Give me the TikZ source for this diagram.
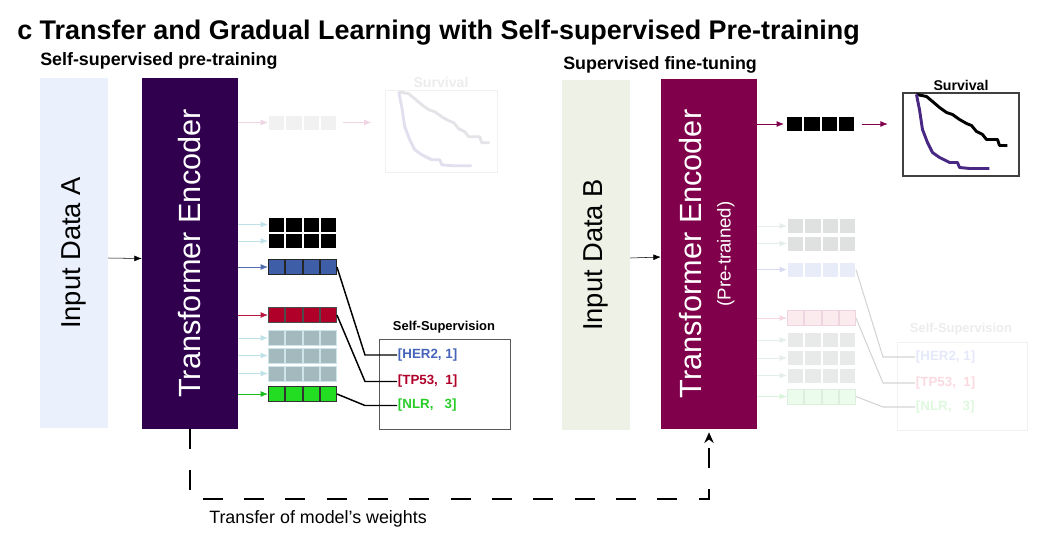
\documentclass[tikz,border=0pt]{standalone}
\usepackage{fontspec}
\setmainfont{Liberation Sans}
\usetikzlibrary{arrows.meta}

\definecolor{inAfill}{RGB}{234,241,253}
\definecolor{inBfill}{RGB}{238,242,230}
\definecolor{encAfill}{RGB}{48,0,78}
\definecolor{encBfill}{RGB}{128,0,75}
\definecolor{herblue}{RGB}{63,94,168}
\definecolor{hertext}{RGB}{70,100,185}
\definecolor{tpred}{RGB}{176,0,42}
\definecolor{nlrgreen}{RGB}{34,221,34}
\definecolor{nlrtext}{RGB}{40,205,40}
\definecolor{grayblue}{RGB}{164,185,189}
\definecolor{grayblueline}{RGB}{205,228,232}
\definecolor{paleblue}{RGB}{190,226,232}
\definecolor{curvepurple}{RGB}{72,40,130}
% faded colours
\definecolor{fadepink}{RGB}{240,212,228}
\definecolor{fadecell}{RGB}{241,241,241}
\definecolor{fadetext}{RGB}{236,236,236}
\definecolor{fadecurveA}{RGB}{228,228,232}
\definecolor{fadecurveB}{RGB}{226,223,238}
\definecolor{fgray}{RGB}{222,225,224}
\definecolor{fgraytwo}{RGB}{232,234,233}
\definecolor{fblue}{RGB}{232,235,248}
\definecolor{fpink}{RGB}{251,234,238}
\definecolor{fpinkline}{RGB}{238,212,222}
\definecolor{fgreen}{RGB}{236,252,236}
\definecolor{fgreenline}{RGB}{222,238,222}
\definecolor{farrowgray}{RGB}{228,236,236}
\definecolor{farrowblue}{RGB}{214,218,242}
\definecolor{farrowpink}{RGB}{246,214,226}
\definecolor{farrowgreen}{RGB}{216,244,216}
\definecolor{faintline}{RGB}{212,212,212}
\definecolor{fhertext}{RGB}{228,232,248}
\definecolor{ftptext}{RGB}{250,218,224}
\definecolor{fnlrtext}{RGB}{222,248,222}

% one row of four embedding cells: name, left x, centre y, fill, border
\newcommand\cellrow[5]{%
  \foreach \i in {0,...,3}
    \node[cell,fill=#4,draw=#5] (#1-\i) at ({#2+8.6+17.25*\i},#3) {};}

% the two survival curves, relative to the plot's north west corner
\newcommand\survlines[2]{%
  \draw[line width=2.2pt,#1,line join=round] (14,2) -- (24,4) -- (30,9) -- (37,15) -- (44,20) -- (50,22) -- (57,27)
    -- (64,31) -- (69,33) -- (74,39) -- (80,42) -- (84,47) -- (95,47) -- (97,53) -- (105,53);
  \draw[line width=2.2pt,#2,line join=round] (14,2) -- (17,17) -- (20,37) -- (25,50) -- (30,60) -- (37,65)
    -- (47,70) -- (55,70) -- (57,75) -- (67,76) -- (87,76);}

\begin{document}
\begin{tikzpicture}[x=0.75pt,y=-0.75pt,>={Latex[length=5.5pt,width=4.4pt]},
  cell/.style={rectangle,inner sep=0pt,minimum width=12.3pt,minimum height=11.4pt,line width=0.6pt},
  tallbox/.style={rectangle,inner sep=0pt,minimum height=263pt},
  rowarrow/.style={->,line width=0.6pt},
  link/.style={line width=1.1pt,black},
  faintlink/.style={line width=0.8pt,faintline},
  survbox/.style={rectangle,draw,inner sep=0pt},
  survlabel/.style={font=\bfseries\fontsize{10.6}{12}\selectfont,anchor=south,inner sep=1.5pt},
  ssbox/.style={rectangle,draw,inner sep=0pt},
  sslabel/.style={font=\bfseries\fontsize{9.7}{11}\selectfont,anchor=base,inner sep=0pt},
  tag/.style={font=\bfseries\fontsize{10}{12}\selectfont,anchor=west,inner sep=0.5pt},
  heading/.style={font=\bfseries\fontsize{13.4}{16}\selectfont,anchor=base west,inner sep=0pt},
  transfer/.style={-{Stealth[length=8pt,width=7pt]},line width=1.5pt,dash pattern=on 15pt off 16pt}]
  \useasboundingbox (0,0) rectangle (1042,544);

  % titles
  \node[anchor=base west,inner sep=0pt,font=\bfseries\fontsize{20.2}{24}\selectfont] (title) at (17,39)
    {c Transfer and Gradual Learning with Self-supervised Pre-training};
  \node[heading] (headA) at (40,65) {Self-supervised pre-training};
  \node[heading] (headB) at (563,69) {Supervised fine-tuning};

  % pre-training
  \node[tallbox,fill=inAfill,minimum width=51pt,font=\fontsize{20.5}{24}\selectfont] (inA) at (74,253)
    {\rotatebox{90}{Input Data A}};
  \node[tallbox,fill=encAfill,minimum width=72pt,text=white,font=\fontsize{23}{27}\selectfont] (encA) at (190,253.5)
    {\rotatebox{90}{Transformer Encoder}};
  \draw[->] ([yshift=-3.75pt]inA.east) -- ([yshift=-3.75pt]encA.west);

  % faded survival head
  \cellrow{topA}{268}{122.5}{fadecell}{white}
  \node[survbox,draw=fadecell,minimum width=84pt,minimum height=61.5pt] (survA) at (441,131) {};
  \node[survlabel,text=fadetext] (survAlabel) at (survA.north) {Survival};
  \begin{scope}[shift={(survA.north west)}]
    \survlines{fadecurveA}{fadecurveB}
  \end{scope}
  \draw[rowarrow,fadepink] (encA.east |- topA-0.west) -- (topA-0.west);
  \draw[rowarrow,fadepink,shorten <=4.5pt,shorten >=10pt] (topA-3.east) -- (topA-3.east -| survA.west);

  % embeddings for self-supervision
  \cellrow{blackA1}{268}{224.5}{black}{white}
  \cellrow{blackA2}{268}{241}{black}{white}
  \cellrow{blueA}{268}{267}{herblue}{black!85}
  \cellrow{redA}{268}{315}{tpred}{black!70}
  \cellrow{grayA1}{268}{338}{grayblue}{grayblueline}
  \cellrow{grayA2}{268}{355.5}{grayblue}{grayblueline}
  \cellrow{grayA3}{268}{373.5}{grayblue}{grayblueline}
  \cellrow{greenA}{268}{394}{nlrgreen}{black!80}
  \draw[rowarrow,paleblue] (encA.east |- blackA1-0.west) -- (blackA1-0.west);
  \draw[rowarrow,paleblue] (encA.east |- blackA2-0.west) -- (blackA2-0.west);
  \draw[rowarrow,herblue!90!white] (encA.east |- blueA-0.west) -- (blueA-0.west);
  \draw[rowarrow,tpred!90!white] (encA.east |- redA-0.west) -- (redA-0.west);
  \draw[rowarrow,paleblue] (encA.east |- grayA1-0.west) -- (grayA1-0.west);
  \draw[rowarrow,paleblue] (encA.east |- grayA2-0.west) -- (grayA2-0.west);
  \draw[rowarrow,paleblue] (encA.east |- grayA3-0.west) -- (grayA3-0.west);
  \draw[rowarrow,nlrgreen!85!black] (encA.east |- greenA-0.west) -- (greenA-0.west);

  \node[ssbox,draw=black!65,minimum width=98.25pt,minimum height=67.5pt] (ssA) at (444.5,384) {};
  \node[sslabel] (ssAlabel) at (444,330) {Self-Supervision};
  \node[tag,text=hertext] (herA) at (397,355) {[HER2, 1]};
  \node[tag,text=tpred] (tpA) at (397,381.5) {[TP53,\ \ 1]};
  \node[tag,text=nlrtext] (nlrA) at (397,405.5) {[NLR,\ \ \ 3]};
  \coordinate (bendA) at (365,0);
  \draw[link] (blueA-3.east) -- (bendA |- herA.west) -- (herA.west);
  \draw[link] (redA-3.east) -- (bendA |- tpA.west) -- (tpA.west);
  \draw[link] (greenA-3.east) -- (bendA |- nlrA.west) -- (nlrA.west);

  % fine-tuning
  \node[tallbox,fill=inBfill,minimum width=51pt,font=\fontsize{20.5}{24}\selectfont] (inB) at (596,255)
    {\rotatebox{90}{Input Data B}};
  \node[tallbox,fill=encBfill,minimum width=72pt,text=white,font=\fontsize{23}{26}\selectfont] (encB) at (709,254)
    {\rotatebox{90}{\begin{tabular}{@{}c@{}}Transformer Encoder\\[-4pt]{\fontsize{14}{16}\selectfont(Pre-trained)}\end{tabular}}};
  \draw[->] ([yshift=-2.25pt]inB.east) -- ([yshift=-2.25pt]encB.west);

  % survival head
  \cellrow{topB}{786}{124}{black}{white}
  \node[survbox,draw=black!75,line width=0.8pt,minimum width=87pt,minimum height=62.25pt] (survB) at (961,134.5) {};
  \node[survlabel] (survBlabel) at (survB.north) {Survival};
  \begin{scope}[shift={(survB.north west)}]
    \survlines{black}{curvepurple}
  \end{scope}
  \draw[rowarrow,encBfill,shorten >=1.5pt] (encB.east |- topB-0.west) -- (topB-0.west);
  \draw[rowarrow,encBfill,shorten <=5pt,shorten >=11pt] (topB-3.east) -- (topB-3.east -| survB.west);

  % faded self-supervision
  \cellrow{grayB1}{787}{226}{fgray}{white}
  \cellrow{grayB2}{787}{243.5}{fgray}{white}
  \cellrow{blueB}{787}{269.5}{fblue}{white}
  \cellrow{pinkB}{787}{318}{fpink}{fpinkline}
  \cellrow{grayB3}{787}{340}{fgraytwo}{white}
  \cellrow{grayB4}{787}{358}{fgraytwo}{white}
  \cellrow{grayB5}{787}{375.5}{fgraytwo}{white}
  \cellrow{greenB}{787}{396.5}{fgreen}{fgreenline}
  \draw[rowarrow,farrowgray] (encB.east |- grayB1-0.west) -- (grayB1-0.west);
  \draw[rowarrow,farrowgray] (encB.east |- grayB2-0.west) -- (grayB2-0.west);
  \draw[rowarrow,farrowblue] (encB.east |- blueB-0.west) -- (blueB-0.west);
  \draw[rowarrow,farrowpink] (encB.east |- pinkB-0.west) -- (pinkB-0.west);
  \draw[rowarrow,farrowgray] (encB.east |- grayB3-0.west) -- (grayB3-0.west);
  \draw[rowarrow,farrowgray] (encB.east |- grayB4-0.west) -- (grayB4-0.west);
  \draw[rowarrow,farrowgray] (encB.east |- grayB5-0.west) -- (grayB5-0.west);
  \draw[rowarrow,farrowgreen] (encB.east |- greenB-0.west) -- (greenB-0.west);

  \node[ssbox,draw=fadecell,minimum width=97.5pt,minimum height=66pt] (ssB) at (962,386) {};
  \node[sslabel,text=fadetext] (ssBlabel) at (961,332) {Self-Supervision};
  \node[tag,text=fhertext] (herB) at (915,357) {[HER2, 1]};
  \node[tag,text=ftptext] (tpB) at (915,383) {[TP53,\ \ 1]};
  \node[tag,text=fnlrtext] (nlrB) at (915,407) {[NLR,\ \ \ 3]};
  \coordinate (bendB) at (883,0);
  \draw[faintlink] (blueB-3.east) -- (bendB |- herB.west) -- (herB.west);
  \draw[faintlink] (pinkB-3.east) -- (bendB |- tpB.west) -- (tpB.west);
  \draw[faintlink] (greenB-3.east) -- (bendB |- nlrB.west) -- (nlrB.west);

  % weight transfer
  \draw[transfer,shorten >=2pt] (encA.south) -- ++(0,70) -| (encB.south);
  \node[anchor=base west,inner sep=0pt,font=\fontsize{13.4}{16}\selectfont] (transferlabel) at (209,523) {Transfer of model’s weights};
\end{tikzpicture}
\end{document}
